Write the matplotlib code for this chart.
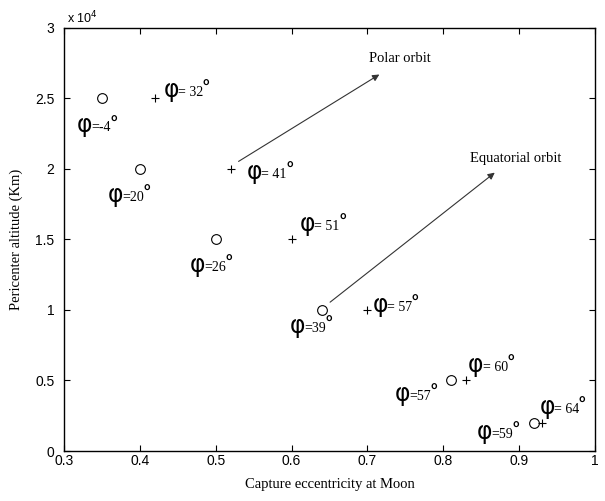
import numpy as np
import matplotlib
matplotlib.use("Agg")
import matplotlib.pyplot as plt
from matplotlib.ticker import FuncFormatter

# circle markers
circ_e = [0.35, 0.40, 0.50, 0.64, 0.81, 0.92]
circ_h = [25000, 20000, 15000, 10000, 5000, 2000]
# plus markers
plus_e = [0.42, 0.52, 0.60, 0.70, 0.83, 0.93]
plus_h = [25000, 20000, 15000, 10000, 5000, 2000]

# labels: text after phi, position of the phi (left, centre)
circ_lab = ["=-4", "=20", "=26", "=39", "=57", "=59"]
circ_lab_x = [0.317, 0.358, 0.466, 0.598, 0.736, 0.844]
circ_lab_y = [23100, 18150, 13200, 8870, 4050, 1350]
plus_lab = ["= 32", "= 41", "= 51", "= 57", "= 60", "= 64"]
plus_lab_x = [0.431, 0.541, 0.611, 0.707, 0.833, 0.927]
plus_lab_y = [25600, 19790, 16100, 10350, 6100, 3120]

serif = "Liberation Serif"
sans = "Liberation Sans"

fig = plt.figure(figsize=(6.05, 5.01), dpi=100)
ax = fig.add_axes([0.106, 0.0998, 0.877, 0.8445])

ax.plot(circ_e, circ_h, "o", mfc="none", mec="black", ms=7, mew=0.8)
ax.plot(plus_e, plus_h, "+", color="black", ms=6, mew=0.8)

ax.set_xlim(0.3, 1.0)
ax.set_ylim(0, 30000)

renderer = fig.canvas.get_renderer()
inv = ax.transData.inverted()


def phi_label(txt, x, y):
    p = ax.text(x, y, "φ", fontsize=17, family="DejaVu Sans", va="center", ha="left")
    bb = p.get_window_extent(renderer)
    px, py = bb.x1 - 1, bb.y0 + 0.24 * bb.height
    x1, y1 = inv.transform((px, py))
    t = ax.text(x1, y1, txt, fontsize=10, family=serif, va="baseline", ha="left")
    bt = t.get_window_extent(renderer)
    x2, y2 = inv.transform((bt.x1 - 1.5, py + 2))
    ax.text(x2, y2, "°", fontsize=12.5, family="DejaVu Sans", fontweight="bold",
            va="baseline", ha="left")


for s, x, y in zip(circ_lab, circ_lab_x, circ_lab_y):
    phi_label(s, x, y)
for s, x, y in zip(plus_lab, plus_lab_x, plus_lab_y):
    phi_label(s, x, y)

# arrows
arrow_kw = dict(arrowstyle="-|>", color="#333333", lw=0.8, mutation_scale=10)
ax.annotate("", xy=(0.719, 26800), xytext=(0.527, 20430), arrowprops=arrow_kw)
ax.annotate("", xy=(0.871, 19860), xytext=(0.648, 10430), arrowprops=arrow_kw)
ax.text(0.743, 27800, "Polar orbit", family=serif, fontsize=10.5, ha="center", va="center")
ax.text(0.896, 20710, "Equatorial orbit", family=serif, fontsize=10.5, ha="center", va="center")

ax.set_xticks(np.arange(0.3, 1.01, 0.1))
ax.set_yticks(np.arange(0, 30001, 5000))
ax.xaxis.set_major_formatter(FuncFormatter(lambda v, p: "1" if abs(v - 1) < 1e-9 else f"{v:.1f}"))
ax.yaxis.set_major_formatter(FuncFormatter(lambda v, p: f"{v / 1e4:g}"))
ax.tick_params(direction="in", top=True, right=True, length=4, width=0.8,
               labelsize=10)
ax.tick_params(axis="x", pad=2)
ax.tick_params(axis="y", pad=7)
for lab in ax.get_xticklabels() + ax.get_yticklabels():
    lab.set_family(sans)
for sp in ax.spines.values():
    sp.set_linewidth(1.0)

ax.text(0.005, 1.004, "x 10$^4$", transform=ax.transAxes, family=sans, fontsize=9,
        ha="left", va="bottom")

ax.set_xlabel("Capture eccentricity at Moon", family=serif, fontsize=10.5, labelpad=7)
ax.set_ylabel("Pericenter altitude (Km)", family=serif, fontsize=10.5, labelpad=9)

fig.savefig("out.png", dpi=100)
